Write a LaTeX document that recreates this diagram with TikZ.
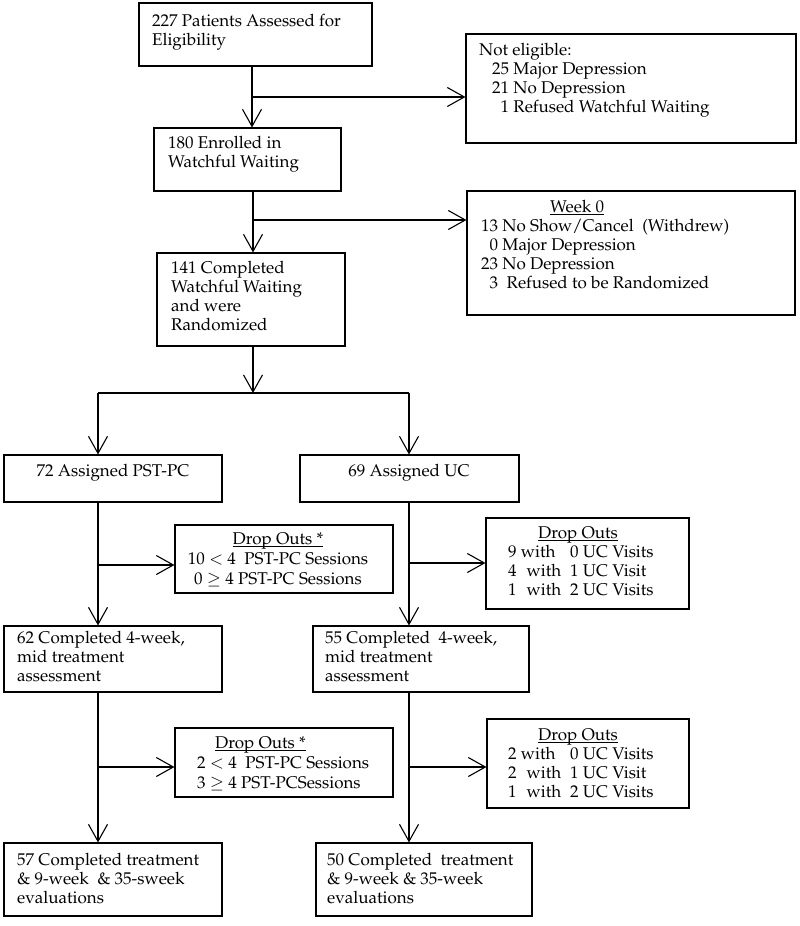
\documentclass[tikz,border=0pt]{standalone}
\usepackage[T1]{fontenc}
\usepackage{mathpazo}
\usetikzlibrary{arrows.meta,fit}
\newcommand\myul[1]{\setbox0\hbox{#1}\rlap{\rule[-2.5pt]{\wd0}{0.8pt}}\box0}
\tikzset{
  box/.style={draw, line width=1.1pt, inner sep=0pt},
  txt/.style={inner sep=0pt, align=left, anchor=north west, font=\fontsize{17}{19}\selectfont},
  ctxt/.style={inner sep=0pt, align=center, anchor=north, font=\fontsize{17}{19}\selectfont},
  wide/.style={font=\fontsize{17}{20}\selectfont},
  ln/.style={line width=1.1pt},
  arr/.style={line width=1.1pt, -{Straight Barb[length=17pt,width=19pt,line width=1.1pt]}}
}
\begin{document}
\begin{tikzpicture}[x=1pt,y=-1pt]
\useasboundingbox (0,0) rectangle (800,926);
% boxes
\node[box, fit={(139,3) (372,66)}] (b1) {};
\node[box, fit={(466,34) (796,143)}] (ne) {};
\node[box, fit={(154,128) (341,191)}] (b2) {};
\node[box, fit={(467,191) (795,315)}] (w0) {};
\node[box, fit={(157,253) (345,346)}] (b3) {};
\node[box, fit={(4,455) (222,502)}] (pst) {};
\node[box, fit={(300,455) (519,502)}] (uc) {};
\node[box, fit={(175,525) (393,593)}] (d1) {};
\node[box, fit={(486,518) (689,609)}] (d2) {};
\node[box, fit={(4,626) (222,692)}] (m1) {};
\node[box, fit={(313,626) (529,692)}] (m2) {};
\node[box, fit={(175,728) (393,797)}] (d3) {};
\node[box, fit={(487,719) (689,808)}] (d4) {};
\node[box, fit={(4,843) (222,916)}] (e1) {};
\node[box, fit={(316,843) (532,916)}] (e2) {};
% texts (first baseline = y + strut height)
\node[txt] (t1) at (152,12.7) {\strut 227 Patients Assessed for\\Eligibility};
\node[txt] (tne) at (479,41.7) {\strut Not eligible:\\\hspace*{13pt}25 Major Depression\\\hspace*{13pt}21 No Depression\\\hspace*{13pt}\phantom{2}1 Refused Watchful Waiting};
\node[txt] (t2) at (168,134.7) {\strut 180 Enrolled in\\Watchful Waiting};
\node[txt] (tw0) at (481,198.7) {\strut\hspace*{69pt}\myul{Week 0}\\13 No Show/Cancel\ \ (Withdrew)\\\phantom{1}0 Major Depression\\23 No Depression\\\phantom{1}3\ \ Refused to be Randomized};
\node[txt] (t3) at (171,259.7) {\strut 141 Completed\\Watchful Waiting\\and were\\Randomized};
\node[ctxt] (tpst) at (113,462.7) {\strut 72 Assigned PST-PC};
\node[ctxt] (tuc) at (409,462.7) {\strut 69 Assigned UC};
\node[ctxt, wide] (td1) at (278,530) {\strut\myul{Drop Outs *}\\10 $<$ 4\ \ PST-PC Sessions\\0 $\geq$ 4 PST-PC Sessions};
\node[txt] (td2) at (508,524.7) {\strut\hspace*{30pt}\myul{Drop Outs}\\\makebox[62pt][l]{9 with}0 UC Visits\\\makebox[62pt][l]{4\hspace{10pt}with}1 UC Visit\\\makebox[62pt][l]{1\hspace{10pt}with}2 UC Visits};
\node[txt] (tm1) at (17,629.7) {\strut 62 Completed 4-week,\\mid treatment\\assessment};
\node[txt] (tm2) at (325,629.7) {\strut 55 Completed\ \ 4-week,\\mid treatment\\assessment};
\node[txt, wide] (td3) at (197,734) {\strut\hspace*{18pt}\myul{Drop Outs *}\\2 $<$ 4\ \ PST-PC Sessions\\3 $\geq$ 4 PST-PCSessions};
\node[txt] (td4) at (508,726.7) {\strut\hspace*{30pt}\myul{Drop Outs}\\\makebox[62pt][l]{2 with}0 UC Visits\\\makebox[62pt][l]{2\hspace{10pt}with}1 UC Visit\\\makebox[62pt][l]{1\hspace{10pt}with}2 UC Visits};
\node[txt] (te1) at (17,851.7) {\strut 57 Completed treatment\\\& 9-week\ \ \& 35-sweek\\evaluations};
\node[txt] (te2) at (327,851.7) {\strut 50 Completed\ \ treatment\\\& 9-week \& 35-week\\evaluations};
% junction coordinates
\coordinate (j1) at (252,97);
\coordinate (j2) at (253,220);
\coordinate (j3) at (253,393);
\coordinate (jl) at (98,393);
\coordinate (jr) at (409,393);
\coordinate (jl1) at (98,565);
\coordinate (jr1) at (409,563);
\coordinate (jl2) at (98,767);
\coordinate (jr2) at (409,767);
% connectors
\draw[arr] (b1.south -| j1) -- (b2.north -| j1);
\draw[arr] (j1) -- (ne.west |- j1);
\draw[arr] (b2.south -| j2) -- (b3.north -| j2);
\draw[arr] (j2) -- (w0.west |- j2);
\draw[arr] (b3.south -| j3) -- (j3);
\draw[ln] (jl) -- (jr);
\draw[arr] (jl) -- (pst.north -| jl);
\draw[arr] (jr) -- (uc.north -| jr);
\draw[arr] (pst.south -| jl1) -- (m1.north -| jl1);
\draw[arr] (jl1) -- (d1.west |- jl1);
\draw[arr] (uc.south -| jr1) -- (m2.north -| jr1);
\draw[arr] (jr1) -- (d2.west |- jr1);
\draw[arr] (m1.south -| jl2) -- (e1.north -| jl2);
\draw[arr] (jl2) -- (d3.west |- jl2);
\draw[arr] (m2.south -| jr2) -- (e2.north -| jr2);
\draw[arr] (jr2) -- (d4.west |- jr2);
\end{tikzpicture}
\end{document}
